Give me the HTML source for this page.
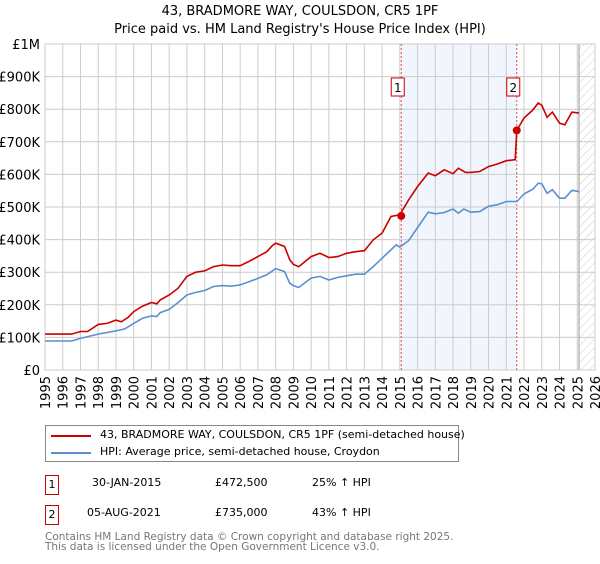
<!DOCTYPE html>
<html><head><meta charset="utf-8"><style>
body{margin:0;background:#fff;font-family:"DejaVu Sans","Liberation Sans",sans-serif;}
svg text{font-family:"DejaVu Sans","Liberation Sans",sans-serif;}
</style></head><body>
<svg id="c" width="600" height="560" xmlns="http://www.w3.org/2000/svg">
<defs><pattern id="hatch" width="6" height="6" patternUnits="userSpaceOnUse" patternTransform="rotate(45)"><line x1="0" y1="0" x2="0" y2="6" stroke="#ccc" stroke-width="1"/></pattern></defs>
<text x="300" y="15" text-anchor="middle" font-size="13" fill="#000">43, BRADMORE WAY, COULSDON, CR5 1PF</text>
<text x="300" y="33" text-anchor="middle" font-size="13" fill="#000">Price paid vs. HM Land Registry's House Price Index (HPI)</text>
<g id="grid"></g><g id="plot"></g>
</svg>
<div style="position:absolute;left:45px;top:425px;width:412px;height:35px;border:1px solid #888;font-size:11px;">
 <div style="position:absolute;left:5px;top:9px;width:40px;height:2px;background:#cc0000"></div>
 <div style="position:absolute;left:54px;top:2px;white-space:nowrap">43, BRADMORE WAY, COULSDON, CR5 1PF (semi-detached house)</div>
 <div style="position:absolute;left:5px;top:26px;width:40px;height:2px;background:#5b8fd0"></div>
 <div style="position:absolute;left:54px;top:19px;white-space:nowrap">HPI: Average price, semi-detached house, Croydon</div>
</div>
<div style="font-size:11px">
 <div style="position:absolute;left:45px;top:475px;width:12px;height:18px;border:1px solid #c00;text-align:center;line-height:18px">1</div>
 <div style="position:absolute;left:92px;top:476px">30-JAN-2015</div>
 <div style="position:absolute;left:215px;top:476px">£472,500</div>
 <div style="position:absolute;left:312px;top:476px">25% ↑ HPI</div>
 <div style="position:absolute;left:45px;top:505px;width:12px;height:18px;border:1px solid #c00;text-align:center;line-height:18px">2</div>
 <div style="position:absolute;left:87px;top:506px">05-AUG-2021</div>
 <div style="position:absolute;left:215px;top:506px">£735,000</div>
 <div style="position:absolute;left:312px;top:506px">43% ↑ HPI</div>
</div>
<div style="position:absolute;left:45px;top:532px;font-size:10.5px;color:#777;line-height:10px">Contains HM Land Registry data © Crown copyright and database right 2025.<br>This data is licensed under the Open Government Licence v3.0.</div>
<script>
const hpiYears=[1995,1996.5,1997,1998,1999,1999.5,2000,2000.5,2001,2001.3,2001.5,2002,2002.5,2003,2003.5,2004,2004.5,2005,2005.5,2006,2006.5,2007,2007.5,2008,2008.5,2008.8,2009,2009.3,2010,2010.5,2011,2011.5,2012,2012.5,2013,2013.5,2014,2014.8,2015,2015.5,2016,2016.6,2017,2017.5,2018,2018.3,2018.6,2019,2019.5,2020,2020.5,2021,2021.6,2022,2022.5,2022.8,2023,2023.3,2023.6,2024,2024.3,2024.7,2025.1];
const hpiValues=[89,89,97,110,120,126,143,159,166,164,176,186,207,230,238,244,256,259,257,261,271,281,292,311,302,266,259,253,282,287,276,284,289,294,294,317,343,384,377,397,437,484,479,483,494,481,494,484,486,502,507,517,517,540,555,573,571,542,553,527,527,551,548];
const priceYears=[1995,1996.5,1997,1997.4,1998,1998.5,1999,1999.3,1999.7,2000,2000.5,2001,2001.3,2001.5,2002,2002.5,2003,2003.5,2004,2004.5,2005,2005.5,2006,2006.5,2007,2007.5,2007.8,2008,2008.5,2008.8,2009,2009.3,2010,2010.5,2011,2011.5,2012,2012.5,2013,2013.5,2014,2014.5,2015,2015.5,2016,2016.6,2017,2017.5,2018,2018.3,2018.7,2019,2019.5,2020,2020.5,2021,2021.5,2021.59,2022,2022.5,2022.8,2023,2023.3,2023.6,2024,2024.3,2024.7,2025.1];
const priceValues=[110,110,118,118,140,143,153,148,162,179,196,207,203,215,230,251,287,300,304,317,322,320,320,333,348,363,381,389,379,338,324,317,348,358,345,348,358,363,366,399,420,471,476,522,563,604,596,614,602,619,606,606,609,624,632,642,645,735,773,798,819,812,775,791,757,752,791,788];
const saleYears=[2015.08,2021.59];
const salePrices=[472.5,735];
const yTicks=[0,100,200,300,400,500,600,700,800,900,1000];
const yTickLabels=["£0","£100K","£200K","£300K","£400K","£500K","£600K","£700K","£800K","£900K","£1M"];
const xTicks=[1995,1996,1997,1998,1999,2000,2001,2002,2003,2004,2005,2006,2007,2008,2009,2010,2011,2012,2013,2014,2015,2016,2017,2018,2019,2020,2021,2022,2023,2024,2025,2026];
const X0=45,X1=595,Y0=370,Y1=44;
const xs=y=>X0+(y-1995)/(2026-1995)*(X1-X0);
const ys=v=>Y0-v/1000*(Y0-Y1);
const NS="http://www.w3.org/2000/svg";
const grid=document.getElementById('grid'),plot=document.getElementById('plot');
function mk(tag,attrs,parent){const e=document.createElementNS(NS,tag);for(const k in attrs)e.setAttribute(k,attrs[k]);parent.appendChild(e);return e;}
let r=mk('rect',{x:xs(saleYears[0]),y:Y1,width:xs(saleYears[1])-xs(saleYears[0]),height:Y0-Y1,fill:'#eef3fc',opacity:0.8},grid);


yTicks.forEach((t,i)=>{
 let l=mk('line',{x1:X0,x2:X1,y1:ys(t),y2:ys(t),stroke:'#ccc'},grid);
 
 
 let tx=mk('text',{x:40,y:ys(t)+5,'text-anchor':'end','font-size':13,fill:'#000'},grid);
 tx.textContent=yTickLabels[i];
 
 
});
xTicks.forEach(t=>{
 let l=mk('line',{x1:xs(t),x2:xs(t),y1:Y1,y2:Y0,stroke:'#ccc'},grid);
 
 
 let tx=mk('text',{x:0,y:0,'text-anchor':'end','font-size':13,fill:'#000',transform:`translate(${xs(t)+5},376) rotate(-90)`},grid);
 tx.textContent=t;
 
 
});
const hx=xs(2025.1);
let h=mk('rect',{x:hx,y:Y1,width:X1-hx,height:Y0-Y1,fill:'url(#hatch)'},grid);


let hl=mk('line',{x1:hx,x2:hx,y1:Y1,y2:Y0,stroke:'#999'},grid);


let fr=mk('rect',{x:X0,y:Y1,width:X1-X0,height:Y0-Y1,fill:'none',stroke:'#ccc'},grid);


saleYears.forEach((s,i)=>{
 let l=mk('line',{x1:xs(s),x2:xs(s),y1:Y1,y2:Y0,stroke:'#e05050','stroke-dasharray':'2,2'},plot);
 
 
 let b=mk('rect',{x:xs(s)-10,y:78,width:13,height:18,fill:'#fff',stroke:'#c00'},plot);
 
 
 let t=mk('text',{x:xs(s)-3.5,y:92,'text-anchor':'middle','font-size':12,fill:'#000'},plot);
 t.textContent=String(i+1);
 
 
});
const pts=(xa,va)=>xa.map((x,i)=>xs(x).toFixed(1)+','+ys(va[i]).toFixed(1)).join(' ');
let hp=mk('polyline',{points:pts(hpiYears,hpiValues),fill:'none',stroke:'#5b8fd0','stroke-width':1.6},plot);


let pp=mk('polyline',{points:pts(priceYears,priceValues),fill:'none',stroke:'#cc0000','stroke-width':1.6},plot);


saleYears.forEach((s,i)=>{
 let c=mk('circle',{cx:xs(s),cy:ys(salePrices[i]),r:4,fill:'#cc0000'},plot);
 
 
});
</script>
</body></html>
